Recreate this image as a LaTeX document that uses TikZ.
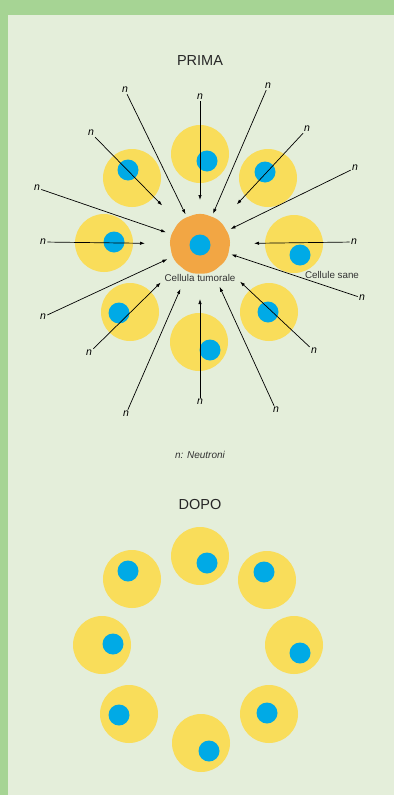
\documentclass[tikz,border=0pt]{standalone}
\usepackage{fontspec}
\setmainfont{Liberation Sans}
\usetikzlibrary{arrows.meta,shapes.geometric}

\definecolor{bordo}{HTML}{A6D494}
\definecolor{fondo}{HTML}{E4EEDA}
\definecolor{giallo}{HTML}{F9DD5A}
\definecolor{azzurro}{HTML}{00AAE6}
\definecolor{arancio}{HTML}{F2A644}
\definecolor{testo}{HTML}{333333}

\begin{document}
\begin{tikzpicture}[
    x=1pt, y=-1pt,
    >={Latex[length=5pt,width=3.4pt]},
    sana/.style={circle, fill=giallo, minimum size=58pt, inner sep=0pt},
    nucleo/.style={circle, fill=azzurro, minimum size=21pt, inner sep=0pt},
    tumore/.style={regular polygon, regular polygon sides=9, fill=arancio, minimum size=63pt, rounded corners=7pt, inner sep=0pt},
    neutrone/.style={font=\fontsize{10.5}{12}\selectfont\itshape, inner sep=1.2pt},
    raggio/.style={->, line width=0.7pt},
    titolo/.style={font=\fontsize{14.5}{16}\selectfont, text=black!85},
    didascalia/.style={font=\fontsize{9.8}{11}\selectfont, text=testo}
]
% fondo e cornice
\fill[bordo] (0,0) rectangle (394,795);
\fill[fondo] (8,15) rectangle (394,795);

% ---- prima ----
\node[titolo] (prima) at (200,61) {PRIMA};

\node[sana] (a1) at (200,154) {};  \node[nucleo] (ka1) at (207,161) {};
\node[sana] (a2) at (268,178) {};  \node[nucleo] (ka2) at (265,172) {};
\node[sana] (a3) at (294,244) {};  \node[nucleo] (ka3) at (300,255) {};
\node[sana] (a4) at (269,312) {};  \node[nucleo] (ka4) at (268,312) {};
\node[sana] (a5) at (199,342) {};  \node[nucleo] (ka5) at (210,350) {};
\node[sana] (a6) at (130,312) {};  \node[nucleo] (ka6) at (119,313) {};
\node[sana] (a7) at (104,243) {};  \node[nucleo] (ka7) at (114,242) {};
\node[sana] (a8) at (132,178) {};  \node[nucleo] (ka8) at (128,170) {};

\node[tumore] (tum) at (200,244) {};
\node[nucleo] (ktum) at (200,245) {};
\node[didascalia] (ltum) at (200,278) {Cellula tumorale};
\node[didascalia] (lsane) at (332,275) {Cellule sane};

\node[neutrone] (n1) at (125,90) {n};
\node[neutrone] (n2) at (200,97) {n};
\node[neutrone] (n3) at (268,86) {n};
\node[neutrone] (n4) at (307,129) {n};
\node[neutrone] (n5) at (355,168) {n};
\node[neutrone] (n6) at (354,242) {n};
\node[neutrone] (n7) at (362,298) {n};
\node[neutrone] (n8) at (314,351) {n};
\node[neutrone] (n9) at (276,410) {n};
\node[neutrone] (n10) at (200,402) {n};
\node[neutrone] (n11) at (126,414) {n};
\node[neutrone] (n12) at (89,353) {n};
\node[neutrone] (n13) at (43,317) {n};
\node[neutrone] (n14) at (43,242) {n};
\node[neutrone] (n15) at (37,188) {n};
\node[neutrone] (n16) at (91,133) {n};

\draw[raggio, shorten >=33pt] (n1) -- (tum.center);
\draw[raggio, shorten >=44pt] (n2) -- (tum.center);
\draw[raggio, shorten >=33pt] (n3) -- (tum.center);
\draw[raggio, shorten >=54pt] (n4) -- (tum.center);
\draw[raggio, shorten >=34pt] (n5) -- (tum.center);
\draw[raggio, shorten >=54pt] (n6) -- (tum.center);
\draw[raggio, shorten >=33pt] (n7) -- (tum.center);
\draw[raggio, shorten >=55pt] (n8) -- (tum.center);
\draw[raggio, shorten >=47pt] (n9) -- (tum.center);
\draw[raggio, shorten >=55pt] (n10) -- (tum.center);
\draw[raggio, shorten >=49pt] (n11) -- (tum.center);
\draw[raggio, shorten >=55pt] (n12) -- (tum.center);
\draw[raggio, shorten >=36pt] (n13) -- (tum.center);
\draw[raggio, shorten >=55pt] (n14) -- (tum.center);
\draw[raggio, shorten >=36pt] (n15) -- (tum.center);
\draw[raggio, shorten >=54pt] (n16) -- (tum.center);

\node[font=\fontsize{10}{11}\selectfont\itshape, text=testo] (legenda) at (200,455) {n: Neutroni};

% ---- dopo ----
\node[titolo] (dopo) at (200,505) {DOPO};

\node[sana] (b1) at (200,556) {};  \node[nucleo] (kb1) at (207,563) {};
\node[sana] (b2) at (267,580) {};  \node[nucleo] (kb2) at (264,572) {};
\node[sana] (b3) at (294,645) {};  \node[nucleo] (kb3) at (300,653) {};
\node[sana] (b4) at (269,714) {};  \node[nucleo] (kb4) at (267,713) {};
\node[sana] (b5) at (201,743) {};  \node[nucleo] (kb5) at (209,751) {};
\node[sana] (b6) at (129,714) {};  \node[nucleo] (kb6) at (119,715) {};
\node[sana] (b7) at (102,645) {};  \node[nucleo] (kb7) at (113,644) {};
\node[sana] (b8) at (132,579) {};  \node[nucleo] (kb8) at (128,571) {};
\end{tikzpicture}
\end{document}
